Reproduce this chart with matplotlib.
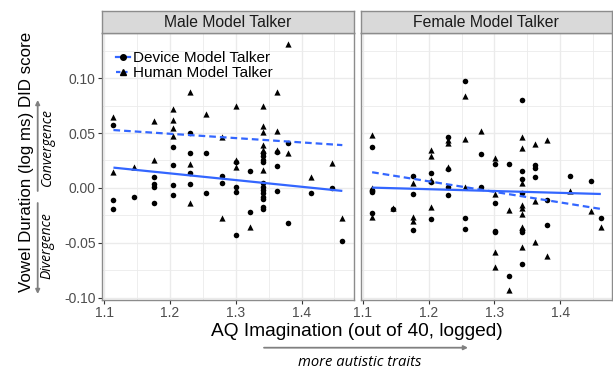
import numpy as np
import matplotlib
matplotlib.use("Agg")
import matplotlib.pyplot as plt
from matplotlib.lines import Line2D

plt.rcParams["font.family"] = ["Liberation Sans", "DejaVu Sans"]

# ==== data (AQ Imagination, logged) ====
male_device_x = [1.114, 1.114, 1.114, 1.146, 1.176, 1.176, 1.176, 1.176, 1.204, 1.204,
                 1.204, 1.204, 1.230, 1.230, 1.230, 1.230, 1.255, 1.255, 1.279, 1.279,
                 1.301, 1.301, 1.301, 1.301, 1.322, 1.322, 1.342, 1.342, 1.342, 1.342,
                 1.342, 1.342, 1.342, 1.342, 1.342, 1.342, 1.342, 1.342, 1.362, 1.362,
                 1.362, 1.380, 1.380, 1.415, 1.447, 1.462]
male_device_y = [0.057, -0.011, -0.019, -0.0085, 0.0103, 0.0034, 0.0012, -0.0133, 0.0376, 0.0206,
                 0.0027, -0.0064, 0.050, 0.032, 0.0133, 0.0033, 0.0315, -0.0048, 0.0109, 0.0048,
                 0.0235, 0.0012, -0.0033, -0.0424, 0.0157, -0.0215, 0.0315, 0.029, 0.0255, 0.024,
                 0.0043, 0.0012, -0.0018, -0.0048, -0.0079, -0.010, -0.0176, -0.019, 0.033, 0.020,
                 -0.0024, 0.041, -0.0315, -0.0048, 0.0003, -0.0485]

male_human_x = [1.114, 1.114, 1.146, 1.176, 1.176, 1.204, 1.204, 1.204, 1.204, 1.230,
                1.230, 1.230, 1.255, 1.279, 1.279, 1.301, 1.301, 1.301, 1.322, 1.342,
                1.342, 1.342, 1.342, 1.342, 1.342, 1.362, 1.362, 1.362, 1.380, 1.380,
                1.415, 1.447, 1.462]
male_human_y = [0.065, 0.0148, 0.0194, 0.061, 0.0255, 0.072, 0.062, 0.055, 0.047, 0.087,
                0.0215, -0.014, 0.067, 0.046, -0.027, 0.075, 0.025, 0.019, -0.036, 0.075,
                0.056, 0.051, 0.039, 0.0345, 0.0164, 0.087, 0.052, 0.0345, 0.131, 0.0315,
                0.0103, 0.0224, -0.0273]

female_device_x = [1.114, 1.114, 1.114, 1.114, 1.146, 1.176, 1.176, 1.176, 1.204, 1.204,
                   1.204, 1.230, 1.230, 1.230, 1.230, 1.255, 1.255, 1.255, 1.279, 1.279,
                   1.301, 1.301, 1.301, 1.301, 1.322, 1.322, 1.342, 1.342, 1.342, 1.342,
                   1.342, 1.342, 1.342, 1.362, 1.362, 1.362, 1.380, 1.380, 1.415, 1.447,
                   1.462]
female_device_y = [0.037, -0.0018, -0.0033, -0.0224, -0.019, 0.0112, -0.0058, -0.038, 0.0133, 0.0057,
                   -0.0285, 0.046, 0.017, 0.0012, -0.0064, 0.097, -0.0276, -0.0376, 0.0306, 0.0012,
                   0.0218, -0.014, -0.039, -0.040, 0.0218, -0.0797, 0.080, 0.0157, 0.0082, -0.0042,
                   -0.038, -0.040, -0.069, 0.0209, 0.0179, 0.0097, -0.0109, -0.0336, 0.0112, 0.0064,
                   -0.0276]

female_human_x = [1.114, 1.114, 1.114, 1.146, 1.176, 1.176, 1.176, 1.204, 1.204, 1.204,
                  1.204, 1.230, 1.230, 1.230, 1.255, 1.255, 1.255, 1.279, 1.301, 1.301,
                  1.301, 1.301, 1.322, 1.322, 1.342, 1.342, 1.342, 1.342, 1.342, 1.342,
                  1.342, 1.342, 1.362, 1.362, 1.362, 1.380, 1.380, 1.415, 1.447, 1.462]
female_human_y = [0.048, 0.0003, -0.026, -0.018, 0.0048, -0.026, -0.0297, 0.0345, 0.0294, 0.0073,
                  -0.0176, 0.0436, 0.0406, 0.0194, 0.084, 0.0445, 0.0012, 0.052, 0.027, -0.0058,
                  -0.0585, -0.072, -0.020, -0.0927, 0.046, 0.036, 0.0042, -0.0155, -0.0185, -0.0236,
                  -0.036, -0.0533, 0.040, -0.0118, -0.0488, 0.0436, -0.0624, -0.0024, -0.0209, -0.0358]

# linear fits (values at the ends of the data range)
fit_x = [1.114, 1.462]
male_device_fit = [0.0185, -0.0027]
male_human_fit = [0.0527, 0.0390]
female_device_fit = [0.0003, -0.0055]
female_human_fit = [0.0143, -0.0191]

panel_titles = ["Male Model Talker", "Female Model Talker"]
x_ticks = [1.1, 1.2, 1.3, 1.4]
x_tick_labels = ["1.1", "1.2", "1.3", "1.4"]
y_ticks = [-0.10, -0.05, 0.00, 0.05, 0.10]
y_tick_labels = ["-0.10", "-0.05", "0.00", "0.05", "0.10"]

BLUE = "#3366FF"
GRID = "#EBEBEB"
BORDER = "#8C8C8C"
W, H = 613, 370


def box(x0, y0, x1, y1):
    """pixel box (top-left origin) -> figure fraction rect"""
    return [x0 / W, 1 - y1 / H, (x1 - x0) / W, (y1 - y0) / H]


fig = plt.figure(figsize=(W / 100, H / 100), dpi=100)

panels = [
    (box(102, 32.5, 353.5, 300), box(102, 11, 353.5, 32.5),
     male_device_x, male_device_y, male_human_x, male_human_y, male_device_fit, male_human_fit),
    (box(360.7, 32.5, 612, 300), box(360.7, 11, 612, 32.5),
     female_device_x, female_device_y, female_human_x, female_human_y, female_device_fit, female_human_fit),
]

axes = []
for i, (rect, srect, dx, dy, hx, hy, dfit, hfit) in enumerate(panels):
    ax = fig.add_axes(rect)
    axes.append(ax)
    ax.set_xlim(1.0966, 1.479)
    ax.set_ylim(-0.102, 0.1415)
    ax.set_xticks(x_ticks)
    ax.set_xticklabels(x_tick_labels)
    ax.set_xticks([1.15, 1.25, 1.35, 1.45], minor=True)
    ax.set_yticks(y_ticks)
    ax.set_yticks([-0.075, -0.025, 0.025, 0.075, 0.125], minor=True)
    if i == 0:
        ax.set_yticklabels(y_tick_labels)
    else:
        ax.tick_params(axis="y", which="both", left=False, labelleft=False)
    ax.grid(True, which="major", color=GRID, lw=1.0, zorder=0)
    ax.grid(True, which="minor", color=GRID, lw=0.6, zorder=0)
    ax.set_axisbelow(True)
    ax.tick_params(which="minor", length=0)
    ax.tick_params(which="major", length=3, width=0.8, color="#333333",
                   labelsize=10, labelcolor="#4D4D4D", pad=1.5)
    for s in ax.spines.values():
        s.set_color(BORDER)
        s.set_linewidth(1.0)

    ax.scatter(dx, dy, s=16, marker="o", color="black", linewidths=0, zorder=3)
    ax.scatter(hx, hy, s=20, marker="^", color="black", linewidths=0, zorder=3)
    ax.plot(fit_x, dfit, color=BLUE, lw=1.6, solid_capstyle="butt", zorder=4)
    ax.plot(fit_x, hfit, color=BLUE, lw=1.6, dashes=(3, 1.8), zorder=4)

    sax = fig.add_axes(srect)
    sax.set_facecolor("#D9D9D9")
    sax.set_xticks([])
    sax.set_yticks([])
    for s in sax.spines.values():
        s.set_color(BORDER)
        s.set_linewidth(1.0)
    sax.text(0.5, 0.45, panel_titles[i], ha="center", va="center",
             fontsize=11.3, color="#1A1A1A", transform=sax.transAxes)

handles = [
    Line2D([], [], color=BLUE, lw=1.6, marker="o", markersize=4,
           markerfacecolor="black", markeredgecolor="black"),
    Line2D([], [], color=BLUE, lw=1.6, dashes=(2, 1.2), marker="^", markersize=4.5,
           markerfacecolor="black", markeredgecolor="black"),
]
axes[0].legend(handles, ["Device Model Talker", "Human Model Talker"],
               loc="upper left", bbox_to_anchor=(0.055, 0.93), frameon=False,
               fontsize=11, handlelength=0.95, handletextpad=0.2,
               labelspacing=0.05, borderpad=0, borderaxespad=0)

# axis titles
fig.text(27 / W, 1 - 162 / H, "Vowel Duration (log ms) DID score", rotation=90,
         ha="center", va="center", fontsize=12.2, color="black")
fig.text(357 / W, 1 - 331 / H, "AQ Imagination (out of 40, logged)",
         ha="center", va="center", fontsize=13.8, color="black")

# direction annotations
ital = dict(family=["Open Sans", "Noto Sans", "DejaVu Sans"], style="italic",
            color="black")
arrow = dict(arrowstyle="-|>", color="#808080", lw=1.3, mutation_scale=6,
             shrinkA=0, shrinkB=0)
axes[0].annotate("", xy=(37.7, H - 100), xytext=(37.7, H - 191),
                 xycoords="figure pixels", textcoords="figure pixels",
                 arrowprops=arrow, annotation_clip=False)
axes[0].annotate("", xy=(37.7, H - 294), xytext=(37.7, H - 203),
                 xycoords="figure pixels", textcoords="figure pixels",
                 arrowprops=arrow, annotation_clip=False)
axes[0].annotate("", xy=(468, H - 347.7), xytext=(264, H - 347.7),
                 xycoords="figure pixels", textcoords="figure pixels",
                 arrowprops=arrow, annotation_clip=False)
fig.text(47 / W, 1 - 147 / H, "Convergence", rotation=90, ha="center", va="center",
         fontsize=10, **ital)
fig.text(47 / W, 1 - 246 / H, "Divergence", rotation=90, ha="center", va="center",
         fontsize=10, **ital)
fig.text(360 / W, 1 - 363 / H, "more autistic traits", ha="center", va="center",
         fontsize=10.6, **ital)

fig.savefig("out.png", dpi=100)
